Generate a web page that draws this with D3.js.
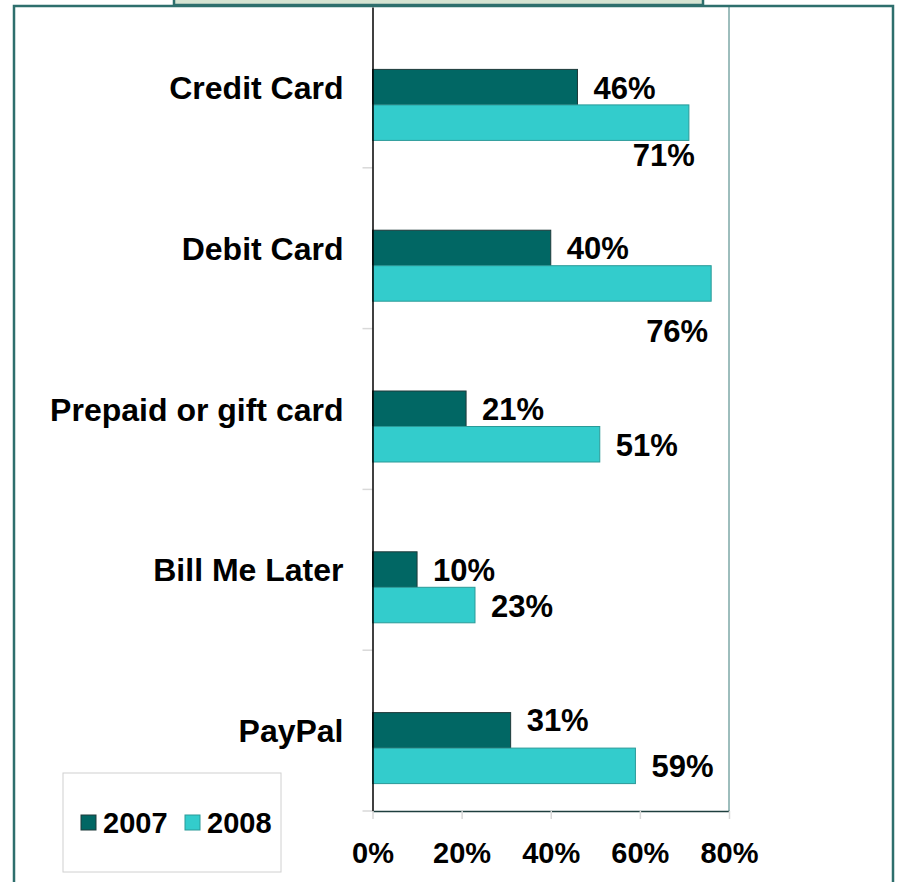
<!DOCTYPE html>
<html>
<head>
<meta charset="utf-8">
<script src="https://cdn.jsdelivr.net/npm/d3@7"></script>
<style>
  html, body { margin: 0; padding: 0; background: #fff; }
  svg { display: block; font-family: Arial, "Liberation Sans", sans-serif; font-weight: bold; }
</style>
</head>
<body>
<svg id="chart" width="899" height="882"></svg>
<script>
// ── Data ─────────────────────────────────────────────────────────────────────
const categories = ["Credit Card", "Debit Card", "Prepaid or gift card", "Bill Me Later", "PayPal"];
const series     = ["2007", "2008"];
const values2007 = [46, 40, 21, 10, 31];
const values2008 = [71, 76, 51, 23, 59];
const xTicks     = [0, 20, 40, 60, 80];

// ── Config ───────────────────────────────────────────────────────────────────
const PLOT = { left: 372.5, right: 729, top: 7, bottom: 811 };
const COLORS  = { "2007": "#016764", "2008": "#33cccc" };
const STROKES = { "2007": "#1f3a3a", "2008": "#2a9a98" };
const FRAME   = "#2e6f6d";
// hand-placed labels in the original slide
const LABEL_DY = { "PayPal|2007": -11, "Credit Card|2008": 26, "Debit Card|2008": 41 };
const LABEL_DX = { "Credit Card|2008": 6, "Debit Card|2008": -3 };

const svg = d3.select("#chart");

// ── Outer frame + title tab ──────────────────────────────────────────────────
svg.append("rect")
  .attr("x", 14).attr("y", 6).attr("width", 879).attr("height", 900)
  .attr("fill", "none").attr("stroke", FRAME).attr("stroke-width", 2.5);

svg.append("rect")
  .attr("x", 174).attr("y", -10).attr("width", 529).attr("height", 15)
  .attr("fill", "#d6e4d2").attr("stroke", FRAME).attr("stroke-width", 2.5);

// ── Scales ───────────────────────────────────────────────────────────────────
const x = d3.scaleLinear().domain([0, 80]).range([PLOT.left, PLOT.right]);
const y = d3.scaleBand().domain(categories).range([PLOT.top, PLOT.bottom]);
// bars sit a little below the category centre, as in the source
const ySub = d3.scaleBand().domain(series).range([-18, 53]);

const rows = categories.map((c, i) => ({ cat: c, "2007": values2007[i], "2008": values2008[i] }));

// ── Plot frame ───────────────────────────────────────────────────────────────
svg.append("line")
  .attr("x1", PLOT.right).attr("x2", PLOT.right)
  .attr("y1", PLOT.top).attr("y2", PLOT.bottom)
  .attr("stroke", "#3d7c7a").attr("stroke-width", 1);

// category boundary ticks (left)
svg.append("g").selectAll("line")
  .data(categories)
  .join("line")
  .attr("x1", PLOT.left - 10).attr("x2", PLOT.left)
  .attr("y1", d => y(d) + y.bandwidth())
  .attr("y2", d => y(d) + y.bandwidth())
  .attr("stroke", "#d9d9d9").attr("stroke-width", 1.5);

// ── Bars ─────────────────────────────────────────────────────────────────────
const cy = d => y(d) + y.bandwidth() / 2;

series.forEach(s => {
  svg.append("g").selectAll("rect")
    .data(rows)
    .join("rect")
    .attr("x", PLOT.left)
    .attr("y", d => cy(d.cat) + ySub(s))
    .attr("width", d => x(d[s]) - PLOT.left)
    .attr("height", ySub.bandwidth())
    .attr("fill", COLORS[s])
    .attr("stroke", STROKES[s])
    .attr("stroke-width", 1);
});

// ── Value labels ─────────────────────────────────────────────────────────────
series.forEach(s => {
  svg.append("g").selectAll("text")
    .data(rows)
    .join("text")
    .each(function (d) {
      const key  = d.cat + "|" + s;
      const barY = cy(d.cat) + ySub(s) + ySub.bandwidth() / 2;
      const end  = x(d[s]);
      const overflow = end + 16 + 62 > PLOT.right;
      const t = d3.select(this)
        .attr("font-size", 31)
        .attr("fill", "#000")
        .text(d[s] + "%");
      if (overflow) {
        t.attr("x", end + (LABEL_DX[key] || 0)).attr("text-anchor", "end")
          .attr("y", barY + ySub.bandwidth() / 2 + (LABEL_DY[key] || 0));
      } else {
        t.attr("x", end + 16)
          .attr("y", barY + 11.5 + (LABEL_DY[key] || 0));
      }
    });
});

// ── Y axis (category names) ──────────────────────────────────────────────────
const yAxis = d3.axisLeft(y).tickSize(0).tickPadding(29);
const yG = svg.append("g")
  .attr("transform", `translate(${PLOT.left},0)`)
  .call(yAxis);
yG.select(".domain").attr("stroke", "#000").attr("stroke-width", 1.5);
yG.selectAll(".tick text")
  .attr("font-size", 32)
  .attr("font-family", "Arial, 'Liberation Sans', sans-serif")
  .attr("font-weight", "bold")
  .attr("fill", "#000")
  .attr("dy", "0.36em");

// ── X axis ───────────────────────────────────────────────────────────────────
const xAxis = d3.axisBottom(x)
  .tickValues(xTicks)
  .tickSize(8)
  .tickSizeOuter(0)
  .tickPadding(23.5)
  .tickFormat(d => d + "%");
const xG = svg.append("g")
  .attr("transform", `translate(0,${PLOT.bottom})`)
  .call(xAxis);
xG.select(".domain").attr("stroke", "#1e3f3e").attr("stroke-width", 1.5);
xG.selectAll(".tick line").attr("stroke", "#d9d9d9").attr("stroke-width", 1.5);
xG.selectAll(".tick text")
  .attr("font-size", 29)
  .attr("font-family", "Arial, 'Liberation Sans', sans-serif")
  .attr("font-weight", "bold")
  .attr("fill", "#000");

// ── Legend ───────────────────────────────────────────────────────────────────
const lg = svg.append("g");
lg.append("rect")
  .attr("x", 63).attr("y", 773).attr("width", 218).attr("height", 99)
  .attr("fill", "#fff").attr("stroke", "#d0d0d0").attr("stroke-width", 1);

const legendX = d3.scalePoint().domain(series).range([81, 185]);
series.forEach(s => {
  lg.append("rect")
    .attr("x", legendX(s)).attr("y", 815)
    .attr("width", 15).attr("height", 15)
    .attr("fill", COLORS[s]).attr("stroke", STROKES[s]).attr("stroke-width", 1);
  lg.append("text")
    .attr("x", legendX(s) + 22).attr("y", 833)
    .attr("font-size", 29).attr("fill", "#000")
    .text(s);
});
</script>
</body>
</html>
